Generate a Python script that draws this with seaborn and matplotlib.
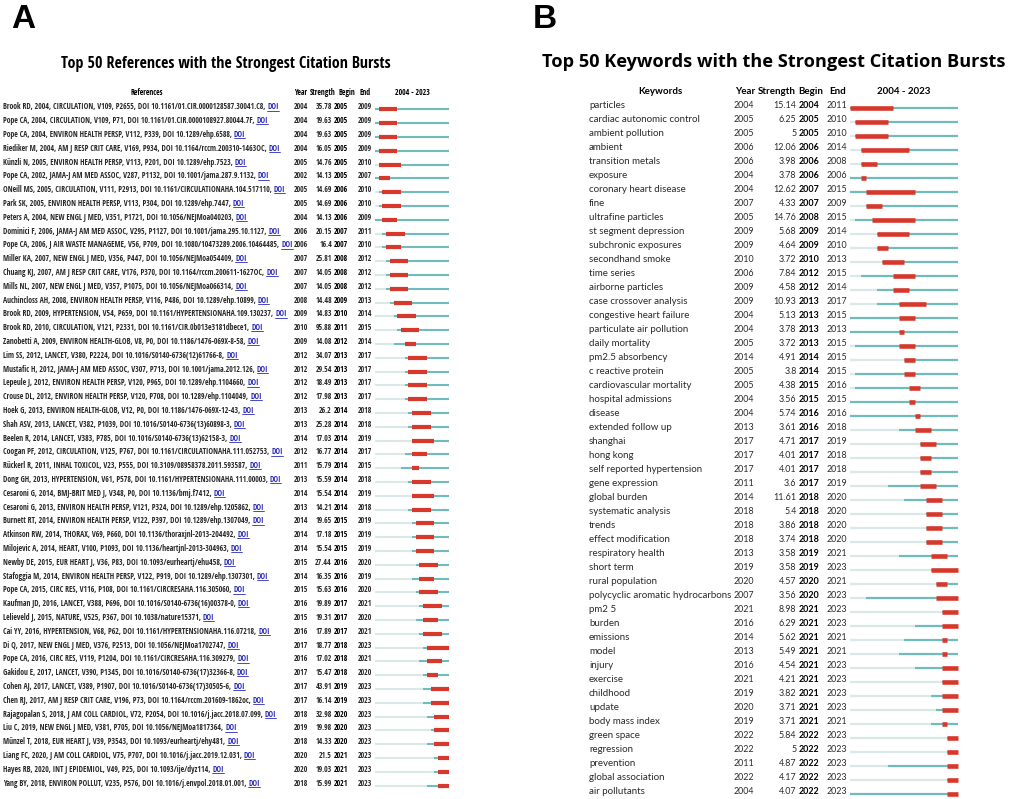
import matplotlib
matplotlib.use("Agg")
import matplotlib.pyplot as plt
import seaborn as sns
from matplotlib import font_manager
from matplotlib.lines import Line2D
from matplotlib.transforms import blended_transform_factory

# ---------------- data ----------------
ref_labels = [
    "Brook RD, 2004, CIRCULATION, V109, P2655, DOI 10.1161/01.CIR.0000128587.30041.C8",
    "Pope CA, 2004, CIRCULATION, V109, P71, DOI 10.1161/01.CIR.0000108927.80044.7F",
    "Pope CA, 2004, ENVIRON HEALTH PERSP, V112, P339, DOI 10.1289/ehp.6588",
    "Riediker M, 2004, AM J RESP CRIT CARE, V169, P934, DOI 10.1164/rccm.200310-1463OC",
    "Künzli N, 2005, ENVIRON HEALTH PERSP, V113, P201, DOI 10.1289/ehp.7523",
    "Pope CA, 2002, JAMA-J AM MED ASSOC, V287, P1132, DOI 10.1001/jama.287.9.1132",
    "ONeill MS, 2005, CIRCULATION, V111, P2913, DOI 10.1161/CIRCULATIONAHA.104.517110",
    "Park SK, 2005, ENVIRON HEALTH PERSP, V113, P304, DOI 10.1289/ehp.7447",
    "Peters A, 2004, NEW ENGL J MED, V351, P1721, DOI 10.1056/NEJMoa040203",
    "Dominici F, 2006, JAMA-J AM MED ASSOC, V295, P1127, DOI 10.1001/jama.295.10.1127",
    "Pope CA, 2006, J AIR WASTE MANAGEME, V56, P709, DOI 10.1080/10473289.2006.10464485",
    "Miller KA, 2007, NEW ENGL J MED, V356, P447, DOI 10.1056/NEJMoa054409",
    "Chuang KJ, 2007, AM J RESP CRIT CARE, V176, P370, DOI 10.1164/rccm.200611-1627OC",
    "Mills NL, 2007, NEW ENGL J MED, V357, P1075, DOI 10.1056/NEJMoa066314",
    "Auchincloss AH, 2008, ENVIRON HEALTH PERSP, V116, P486, DOI 10.1289/ehp.10899",
    "Brook RD, 2009, HYPERTENSION, V54, P659, DOI 10.1161/HYPERTENSIONAHA.109.130237",
    "Brook RD, 2010, CIRCULATION, V121, P2331, DOI 10.1161/CIR.0b013e3181dbece1",
    "Zanobetti A, 2009, ENVIRON HEALTH-GLOB, V8, P0, DOI 10.1186/1476-069X-8-58",
    "Lim SS, 2012, LANCET, V380, P2224, DOI 10.1016/S0140-6736(12)61766-8",
    "Mustafic H, 2012, JAMA-J AM MED ASSOC, V307, P713, DOI 10.1001/jama.2012.126",
    "Lepeule J, 2012, ENVIRON HEALTH PERSP, V120, P965, DOI 10.1289/ehp.1104660",
    "Crouse DL, 2012, ENVIRON HEALTH PERSP, V120, P708, DOI 10.1289/ehp.1104049",
    "Hoek G, 2013, ENVIRON HEALTH-GLOB, V12, P0, DOI 10.1186/1476-069X-12-43",
    "Shah ASV, 2013, LANCET, V382, P1039, DOI 10.1016/S0140-6736(13)60898-3",
    "Beelen R, 2014, LANCET, V383, P785, DOI 10.1016/S0140-6736(13)62158-3",
    "Coogan PF, 2012, CIRCULATION, V125, P767, DOI 10.1161/CIRCULATIONAHA.111.052753",
    "Rückerl R, 2011, INHAL TOXICOL, V23, P555, DOI 10.3109/08958378.2011.593587",
    "Dong GH, 2013, HYPERTENSION, V61, P578, DOI 10.1161/HYPERTENSIONAHA.111.00003",
    "Cesaroni G, 2014, BMJ-BRIT MED J, V348, P0, DOI 10.1136/bmj.f7412",
    "Cesaroni G, 2013, ENVIRON HEALTH PERSP, V121, P324, DOI 10.1289/ehp.1205862",
    "Burnett RT, 2014, ENVIRON HEALTH PERSP, V122, P397, DOI 10.1289/ehp.1307049",
    "Atkinson RW, 2014, THORAX, V69, P660, DOI 10.1136/thoraxjnl-2013-204492",
    "Milojevic A, 2014, HEART, V100, P1093, DOI 10.1136/heartjnl-2013-304963",
    "Newby DE, 2015, EUR HEART J, V36, P83, DOI 10.1093/eurheartj/ehu458",
    "Stafoggia M, 2014, ENVIRON HEALTH PERSP, V122, P919, DOI 10.1289/ehp.1307301",
    "Pope CA, 2015, CIRC RES, V116, P108, DOI 10.1161/CIRCRESAHA.116.305060",
    "Kaufman JD, 2016, LANCET, V388, P696, DOI 10.1016/S0140-6736(16)00378-0",
    "Lelieveld J, 2015, NATURE, V525, P367, DOI 10.1038/nature15371",
    "Cai YY, 2016, HYPERTENSION, V68, P62, DOI 10.1161/HYPERTENSIONAHA.116.07218",
    "Di Q, 2017, NEW ENGL J MED, V376, P2513, DOI 10.1056/NEJMoa1702747",
    "Pope CA, 2016, CIRC RES, V119, P1204, DOI 10.1161/CIRCRESAHA.116.309279",
    "Gakidou E, 2017, LANCET, V390, P1345, DOI 10.1016/S0140-6736(17)32366-8",
    "Cohen AJ, 2017, LANCET, V389, P1907, DOI 10.1016/S0140-6736(17)30505-6",
    "Chen RJ, 2017, AM J RESP CRIT CARE, V196, P73, DOI 10.1164/rccm.201609-1862oc",
    "Rajagopalan S, 2018, J AM COLL CARDIOL, V72, P2054, DOI 10.1016/j.jacc.2018.07.099",
    "Liu C, 2019, NEW ENGL J MED, V381, P705, DOI 10.1056/NEJMoa1817364",
    "Münzel T, 2018, EUR HEART J, V39, P3543, DOI 10.1093/eurheartj/ehy481",
    "Liang FC, 2020, J AM COLL CARDIOL, V75, P707, DOI 10.1016/j.jacc.2019.12.031",
    "Hayes RB, 2020, INT J EPIDEMIOL, V49, P25, DOI 10.1093/ije/dyz114",
    "Yang BY, 2018, ENVIRON POLLUT, V235, P576, DOI 10.1016/j.envpol.2018.01.001",
]
ref_year = [2004, 2004, 2004, 2004, 2005, 2002, 2005, 2005, 2004, 2006,
            2006, 2007, 2007, 2007, 2008, 2009, 2010, 2009, 2012, 2012,
            2012, 2012, 2013, 2013, 2014, 2012, 2011, 2013, 2014, 2013,
            2014, 2014, 2014, 2015, 2014, 2015, 2016, 2015, 2016, 2017,
            2016, 2017, 2017, 2017, 2018, 2019, 2018, 2020, 2020, 2018]
ref_strength = [35.78, 19.63, 19.63, 16.05, 14.76, 14.13, 14.69, 14.69, 14.13, 20.15,
                16.4, 25.81, 14.05, 14.05, 14.48, 14.83, 95.88, 14.08, 34.07, 29.54,
                18.49, 17.98, 26.2, 25.28, 17.03, 16.77, 15.79, 15.59, 15.54, 14.21,
                19.65, 17.18, 15.54, 27.44, 16.35, 15.63, 19.89, 19.31, 17.89, 18.77,
                17.02, 15.47, 43.91, 16.14, 32.98, 19.98, 14.33, 21.5, 19.03, 15.99]
ref_begin = [2005, 2005, 2005, 2005, 2005, 2005, 2006, 2006, 2006, 2007,
             2007, 2008, 2008, 2008, 2009, 2010, 2011, 2012, 2013, 2013,
             2013, 2013, 2014, 2014, 2014, 2014, 2014, 2014, 2014, 2014,
             2015, 2015, 2015, 2016, 2016, 2016, 2017, 2017, 2017, 2018,
             2018, 2018, 2019, 2019, 2020, 2020, 2020, 2021, 2021, 2021]
ref_end = [2009, 2009, 2009, 2009, 2010, 2007, 2010, 2010, 2009, 2011,
           2010, 2012, 2012, 2012, 2013, 2014, 2015, 2014, 2017, 2017,
           2017, 2017, 2018, 2018, 2019, 2017, 2015, 2018, 2019, 2018,
           2019, 2019, 2019, 2020, 2019, 2020, 2021, 2020, 2021, 2023,
           2021, 2020, 2023, 2023, 2023, 2023, 2023, 2023, 2023, 2023]

kw_labels = [
    "particles", "cardiac autonomic control", "ambient pollution", "ambient",
    "transition metals", "exposure", "coronary heart disease", "fine",
    "ultrafine particles", "st segment depression", "subchronic exposures",
    "secondhand smoke", "time series", "airborne particles", "case crossover analysis",
    "congestive heart failure", "particulate air pollution", "daily mortality",
    "pm2.5 absorbency", "c reactive protein", "cardiovascular mortality",
    "hospital admissions", "disease", "extended follow up", "shanghai", "hong kong",
    "self reported hypertension", "gene expression", "global burden",
    "systematic analysis", "trends", "effect modification", "respiratory health",
    "short term", "rural population", "polycyclic aromatic hydrocarbons", "pm2 5",
    "burden", "emissions", "model", "injury", "exercise", "childhood", "update",
    "body mass index", "green space", "regression", "prevention",
    "global association", "air pollutants",
]
kw_year = [2004, 2005, 2005, 2006, 2006, 2004, 2004, 2007, 2005, 2009,
           2009, 2010, 2006, 2009, 2009, 2004, 2004, 2005, 2014, 2005,
           2005, 2004, 2004, 2013, 2017, 2017, 2017, 2011, 2014, 2018,
           2018, 2018, 2013, 2019, 2020, 2007, 2021, 2016, 2014, 2013,
           2016, 2021, 2019, 2020, 2019, 2022, 2022, 2011, 2022, 2004]
kw_strength = [15.14, 6.25, 5, 12.06, 3.98, 3.78, 12.62, 4.33, 14.76, 5.68,
               4.64, 3.72, 7.84, 4.58, 10.93, 5.13, 3.78, 3.72, 4.91, 3.8,
               4.38, 3.56, 5.74, 3.61, 4.71, 4.01, 4.01, 3.6, 11.61, 5.4,
               3.86, 3.74, 3.58, 3.58, 4.57, 3.56, 8.98, 6.29, 5.62, 5.49,
               4.54, 4.21, 3.82, 3.71, 3.71, 5.84, 5, 4.87, 4.17, 4.07]
kw_begin = [2004, 2005, 2005, 2006, 2006, 2006, 2007, 2007, 2008, 2009,
            2009, 2010, 2012, 2012, 2013, 2013, 2013, 2013, 2014, 2014,
            2015, 2015, 2016, 2016, 2017, 2017, 2017, 2017, 2018, 2018,
            2018, 2018, 2019, 2019, 2020, 2020, 2021, 2021, 2021, 2021,
            2021, 2021, 2021, 2021, 2021, 2022, 2022, 2022, 2022, 2022]
kw_end = [2011, 2010, 2010, 2014, 2008, 2006, 2015, 2009, 2015, 2014,
          2010, 2013, 2015, 2014, 2017, 2015, 2013, 2015, 2015, 2015,
          2016, 2015, 2016, 2018, 2019, 2018, 2018, 2019, 2020, 2020,
          2020, 2020, 2021, 2023, 2021, 2023, 2023, 2023, 2021, 2021,
          2023, 2023, 2023, 2023, 2021, 2023, 2023, 2023, 2023, 2023]

first_year, last_year = 2004, 2023
title_a = "Top 50 References with the Strongest Citation Bursts"
title_b = "Top 50 Keywords with the Strongest Citation Bursts"

# ---------------- style ----------------
sns.set_theme(style="white")
avail = {f.name for f in font_manager.fontManager.ttflist}


def pick(cands, default="DejaVu Sans"):
    for c in cands:
        if c in avail:
            return c
    return default


body = pick(["Open Sans", "Noto Sans", "Lato"])
row_b_font = pick(["Lato", "Roboto", "Open Sans"])
letter_font = pick(["Liberation Sans", "DejaVu Sans"])
plt.rcParams["font.family"] = [body, "DejaVu Sans"]

RED = "#d8382c"
TEAL = "#6fbcbc"
LIGHT = "#dbe8e8"
BLUE = "#2b2bb8"
TXT = "#2a2a2a"

W, H = 1013, 799
fig = plt.figure(figsize=(W / 100, H / 100), dpi=100)
fig.patch.set_facecolor("white")
renderer = fig.canvas.get_renderer()


def fx(px):
    return px / W


def fy(py):
    return 1 - py / H


def width_px(s, size, family, weight="normal"):
    t = fig.text(0, 0, s, fontsize=size, family=family, weight=weight)
    w = t.get_window_extent(renderer).width
    t.remove()
    return w


def fit(s, target, family, weight="normal", base=10.0):
    return base * target / width_px(s, base, family, weight)


def narrowest(sample, cands, weight="normal"):
    best, bw = None, None
    for c in cands:
        if c not in avail:
            continue
        w = width_px(sample, 10, c, weight)
        if bw is None or w < bw:
            best, bw = c, w
    return best or "DejaVu Sans"


cand_narrow = ["Liberation Sans Narrow", "DejaVu Sans Condensed", "Roboto Condensed",
               "Open Sans Condensed", "Roboto", "Lato", "Liberation Sans", "Inter",
               "Noto Sans", "Open Sans"]
narrow = narrowest(ref_labels[0], cand_narrow)
narrow_bold = narrowest(title_a, cand_narrow, "bold")


def fmt(v):
    return f"{v:g}"


def draw_panel(labels, years, strengths, begins, ends, cfg):
    n = len(labels)
    ax = fig.add_axes([fx(cfg["bar_x0"]), fy(cfg["row_last"]),
                       (cfg["bar_x1"] - cfg["bar_x0"]) / W,
                       (cfg["row_last"] - cfg["row_first"]) / H])
    ax.set_xlim(first_year, last_year + 1)
    ax.set_ylim(n - 1, 0)
    ax.axis("off")
    tr = blended_transform_factory(fig.transFigure, ax.transData)
    fam = cfg["family"]
    fs = cfg["size"]
    nfs = cfg["nsize"]
    for i in range(n):
        y = i
        t = ax.text(fx(cfg["label_x"]), y, labels[i] + cfg["label_suffix"], transform=tr,
                    fontsize=fs, family=fam, color=TXT, va="baseline", ha="left")
        if cfg["doi"]:
            bb = t.get_window_extent(renderer)
            x1 = bb.x1
            d = ax.text(x1 / W, y, "DOI", transform=tr, fontsize=fs, family=fam,
                        color=BLUE, va="baseline", ha="left")
            db = d.get_window_extent(renderer)
            ypix = ax.transData.transform((first_year, y))[1] - 1.2
            fig.add_artist(Line2D([db.x0 / W, db.x1 / W], [ypix / H, ypix / H],
                                  transform=fig.transFigure, color=BLUE, lw=0.6))
        ax.text(fx(cfg["year_x"]), y, str(years[i]), transform=tr, fontsize=nfs,
                family=fam, color=TXT, va="baseline", ha="left")
        ax.text(fx(cfg["str_x"]), y, fmt(strengths[i]), transform=tr, fontsize=nfs,
                family=fam, color=TXT, va="baseline", ha="right")
        ax.text(fx(cfg["beg_x"]), y, str(begins[i]), transform=tr, fontsize=nfs,
                family=fam, color="black", weight="bold", va="baseline", ha="left")
        ax.text(fx(cfg["end_x"]), y, str(ends[i]), transform=tr, fontsize=nfs,
                family=fam, color=TXT, va="baseline", ha="left")
        yy = y + cfg["bar_off"]
        start = max(years[i], first_year)
        if start > first_year:
            ax.hlines(yy, first_year, start, color=LIGHT, lw=cfg["lw_thin"],
                      capstyle="butt", clip_on=False)
        ax.hlines(yy, start, last_year + 1, color=TEAL, lw=cfg["lw_thin"],
                  capstyle="butt", clip_on=False)
        ax.hlines(yy, begins[i], ends[i] + 1, color=RED, lw=cfg["lw_thick"],
                  capstyle="butt", clip_on=False)
    # headers
    hs = cfg["hsize"]
    hf = cfg["hfamily"]
    hy = fy(cfg["header_y"])
    for txt, x, ha in cfg["headers"]:
        fig.text(fx(x), hy, txt, fontsize=hs, family=hf, weight="bold",
                 color="black", ha=ha, va="baseline")
    return ax


# ---------------- panel A ----------------
size_a = fit(ref_labels[0] + ", DOI", 276, narrow)
hsize_a = fit("References", 33, narrow_bold, "bold")
cfg_a = dict(bar_x0=375, bar_x1=449, row_first=109.3, row_last=785.7,
             label_x=3, year_x=294, str_x=332, beg_x=334, end_x=358,
             family=[narrow, "DejaVu Sans"], size=size_a, nsize=size_a,
             label_suffix=", ", doi=True,
             bar_off=0.0, lw_thin=1.5, lw_thick=3.0,
             hsize=hsize_a, hfamily=[narrow_bold, "DejaVu Sans"], header_y=95,
             headers=[("References", 147, "center"), ("Year", 294, "left"),
                      ("Strength", 310, "left"), ("Begin", 338, "left"),
                      ("End", 359, "left"), ("2004 - 2023", 412, "center")])
draw_panel(ref_labels, ref_year, ref_strength, ref_begin, ref_end, cfg_a)

# ---------------- panel B ----------------
size_b = fit("polycyclic aromatic hydrocarbons", 143, row_b_font)
nsize_b = fit("2004", 20.7, row_b_font)
hsize_b = fit("Keywords", 44, row_b_font, "bold")
cfg_b = dict(bar_x0=850, bar_x1=958, row_first=108.3, row_last=794,
             label_x=589, year_x=734, str_x=796.5, beg_x=799, end_x=827,
             family=[row_b_font, "DejaVu Sans"], size=size_b, nsize=nsize_b,
             label_suffix="", doi=False,
             bar_off=0.0, lw_thin=1.6, lw_thick=3.3,
             hsize=hsize_b, hfamily=[row_b_font, "DejaVu Sans"], header_y=94.5,
             headers=[("Keywords", 660, "center"), ("Year", 735, "left"),
                      ("Strength", 758, "left"), ("Begin", 798, "left"),
                      ("End", 829, "left"), ("2004 - 2023", 904, "center")])
draw_panel(kw_labels, kw_year, kw_strength, kw_begin, kw_end, cfg_b)

# ---------------- titles & panel letters ----------------
ts_a = fit(title_a, 329, narrow_bold, "bold")
ts_b = fit(title_b, 463, body, "bold")
fig.text(fx(225.5), fy(68.3), title_a, fontsize=ts_a, family=[narrow_bold, "DejaVu Sans"],
         weight="bold", ha="center", va="baseline", color="black")
fig.text(fx(773.5), fy(66.7), title_b, fontsize=ts_b, family=[body, "DejaVu Sans"],
         weight="bold", ha="center", va="baseline", color="black")
fig.text(fx(11), fy(28.3), "A", fontsize=24, family=letter_font, weight="bold",
         ha="left", va="baseline", color="black")
fig.text(fx(533), fy(28.3), "B", fontsize=24, family=letter_font, weight="bold",
         ha="left", va="baseline", color="black")

fig.savefig("out.png", dpi=100, facecolor="white")
